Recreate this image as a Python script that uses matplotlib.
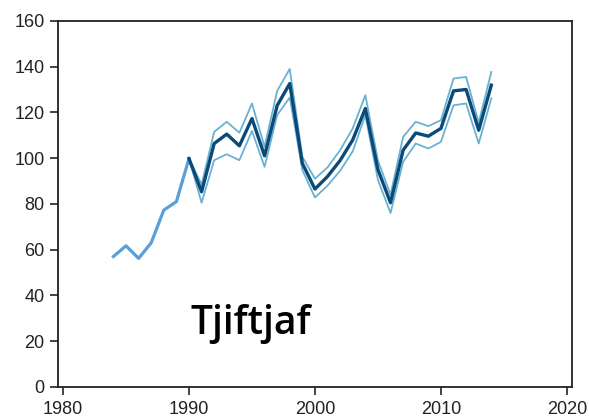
import matplotlib.pyplot as plt

# early index (before the band starts)
early_years = [1984, 1985, 1986, 1987, 1988, 1989, 1990]
early_vals = [57, 61.7, 56.2, 63, 77.3, 81, 99.8]

# index with confidence band
years = list(range(1990, 2015))
index_vals = [99.8, 85.3, 106.4, 110.5, 105.4, 117.3, 101, 123, 132.6, 97.7,
              86.5, 92, 99, 108, 121.7, 95, 80.5, 103.5, 111, 109.6,
              113, 129.4, 130, 112.2, 131.9]
upper_vals = [99.8, 88.5, 111.5, 115.9, 111.1, 123.9, 104.9, 129.4, 139, 100.6,
              91, 96, 103.5, 113, 127.5, 99, 84, 109.3, 115.9, 114,
              116.6, 134.8, 135.5, 115.5, 137.7]
lower_vals = [99.8, 80.5, 99.1, 101.7, 99.1, 111.9, 96.2, 118.8, 126.5, 94.8,
              82.8, 88, 94.5, 103, 118.8, 90.5, 76, 98.4, 106.4, 104.2,
              107.1, 123.1, 123.9, 106.4, 126.1]

label = "Tjiftjaf"

fig = plt.figure(figsize=(5.89, 4.17), dpi=100)
ax = fig.add_axes([0.0993, 0.072, 0.8717, 0.878])

ax.plot(early_years, early_vals, color="#5b9fd8", lw=2.3, solid_joinstyle="round")
ax.plot(years, upper_vals, color="#6ab2d2", lw=1.3)
ax.plot(years, lower_vals, color="#6ab2d2", lw=1.3)
ax.plot(years, index_vals, color="#0b4a78", lw=2.4)

ax.text(1994.9, 27.5, label, fontsize=28, fontweight="semibold", family="Open Sans",
        ha="center", va="center", color="black")

ax.set_xlim(1979.64, 2020.4)
ax.set_ylim(0, 160)
ax.set_xticks([1980, 1990, 2000, 2010, 2020])
ax.set_yticks(range(0, 161, 20))
ax.tick_params(length=6, width=1.2, labelsize=13, colors="#222222", pad=4)
for lab in ax.get_xticklabels() + ax.get_yticklabels():
    lab.set_family("Liberation Sans")
for s in ax.spines.values():
    s.set_linewidth(1.3)
    s.set_color("#222222")

plt.savefig("out.png", dpi=100)
